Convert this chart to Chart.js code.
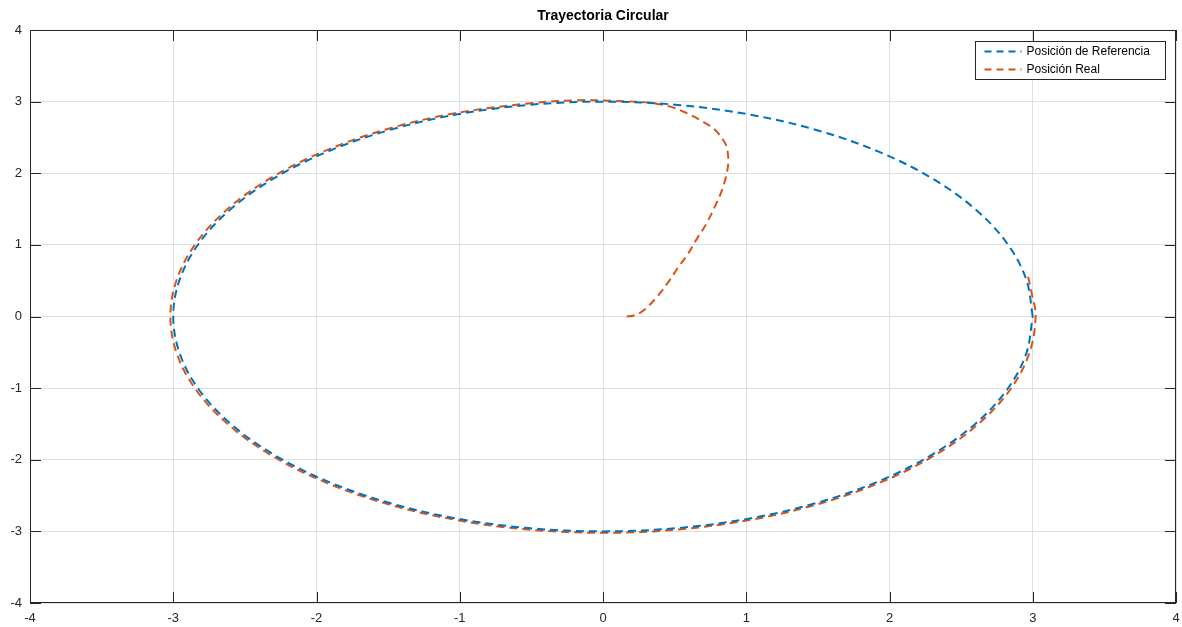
<!DOCTYPE html>
<html lang="es">
<head>
<meta charset="UTF-8" />
<title>Trayectoria Circular</title>
<script src="https://cdn.jsdelivr.net/npm/chart.js"></script>
<style>
  html, body { margin: 0; padding: 0; background: #fff; }
  #wrap { width: 1182px; height: 627px; }
</style>
</head>
<body>
<div id="wrap"><canvas id="traj"></canvas></div>
<script>
  // reference circle (r = 3)
  const refX = [3.000, 2.954, 2.819, 2.598, 2.298, 1.928, 1.500, 1.026, 0.521, 0.000,
    -0.521, -1.026, -1.500, -1.928, -2.298, -2.598, -2.819, -2.954, -3.000,
    -2.954, -2.819, -2.598, -2.298, -1.928, -1.500, -1.026, -0.521, 0.000,
    0.521, 1.026, 1.500, 1.928, 2.298, 2.598, 2.819, 2.954, 3.000];
  const refY = [0.000, 0.521, 1.026, 1.500, 1.928, 2.298, 2.598, 2.819, 2.954, 3.000,
    2.954, 2.819, 2.598, 2.298, 1.928, 1.500, 1.026, 0.521, 0.000,
    -0.521, -1.026, -1.500, -1.928, -2.298, -2.598, -2.819, -2.954, -3.000,
    -2.954, -2.819, -2.598, -2.298, -1.928, -1.500, -1.026, -0.521, 0.000];

  // actual position
  const realX = [0.165, 0.21, 0.28, 0.375, 0.456, 0.526, 0.595, 0.654, 0.72, 0.78, 0.83, 0.863,
    0.875, 0.863, 0.84, 0.78, 0.69, 0.584, 0.47, 0.34, 0.21, 0.07, -0.16,
    -0.524, -1.033, -1.510, -1.941, -2.313, -2.615, -2.838, -2.974, -3.020,
    -2.974, -2.838, -2.615, -2.313, -1.941, -1.510, -1.033, -0.524, 0.000,
    0.524, 1.033, 1.510, 1.941, 2.313, 2.615, 2.838, 2.974, 3.020, 2.990, 2.960];
  const realY = [0.0, 0.01, 0.08, 0.27, 0.48, 0.69, 0.88, 1.08, 1.29, 1.53, 1.76, 1.99,
    2.18, 2.37, 2.46, 2.61, 2.73, 2.84, 2.93, 2.98, 3.0, 3.01, 3.02,
    2.974, 2.838, 2.615, 2.313, 1.941, 1.510, 1.033, 0.524, 0.000,
    -0.524, -1.033, -1.510, -1.941, -2.313, -2.615, -2.838, -2.974, -3.020,
    -2.974, -2.838, -2.615, -2.313, -1.941, -1.510, -1.033, -0.524, 0.000, 0.35, 0.62];

  const axisTicks = [-4, -3, -2, -1, 0, 1, 2, 3, 4];
  const seriesNames = ['Posición de Referencia', 'Posición Real'];
  const chartTitle = 'Trayectoria Circular';

  const toPoints = (xs, ys) => xs.map((x, i) => ({ x: x, y: ys[i] }));

  const axisColor = '#262626';
  const font = 'Liberation Sans, Arial, sans-serif';

  // box, inward ticks, x labels, title and legend in MATLAB style
  const matlabFrame = {
    id: 'matlabFrame',
    afterDraw(chart) {
      const ctx = chart.ctx;
      const a = chart.chartArea;
      const sx = chart.scales.x, sy = chart.scales.y;
      const tl = 11;
      ctx.save();
      ctx.strokeStyle = axisColor;
      ctx.lineWidth = 1;
      ctx.strokeRect(a.left + 0.5, a.top + 0.5, a.right - a.left - 1, a.bottom - a.top - 1);
      ctx.beginPath();
      axisTicks.forEach(v => {
        const px = Math.round(sx.getPixelForValue(v)) + 0.5;
        ctx.moveTo(px, a.bottom); ctx.lineTo(px, a.bottom - tl);
        ctx.moveTo(px, a.top); ctx.lineTo(px, a.top + tl);
        const py = Math.round(sy.getPixelForValue(v)) + 0.5;
        ctx.moveTo(a.left, py); ctx.lineTo(a.left + tl, py);
        ctx.moveTo(a.right, py); ctx.lineTo(a.right - tl, py);
      });
      ctx.stroke();

      // x tick labels
      ctx.fillStyle = axisColor;
      ctx.font = '13px ' + font;
      ctx.textAlign = 'center';
      ctx.textBaseline = 'middle';
      axisTicks.forEach(v => {
        ctx.fillText(String(v), sx.getPixelForValue(v), a.bottom + 15);
      });

      // title
      ctx.fillStyle = '#000';
      ctx.font = 'bold 14px ' + font;
      ctx.fillText(chartTitle, (a.left + a.right) / 2, 16);

      // legend
      const bx = 975.5, by = 41.5, bw = 190, bh = 38;
      ctx.fillStyle = '#fff';
      ctx.fillRect(bx, by, bw, bh);
      ctx.strokeStyle = axisColor;
      ctx.strokeRect(bx, by, bw, bh);
      ctx.font = '12px ' + font;
      ctx.textAlign = 'left';
      chart.data.datasets.forEach((ds, i) => {
        const yy = by + 10 + i * 18;
        ctx.strokeStyle = ds.borderColor;
        ctx.lineWidth = 2;
        ctx.setLineDash([7, 5]);
        ctx.beginPath();
        ctx.moveTo(bx + 9, yy); ctx.lineTo(bx + 46, yy);
        ctx.stroke();
        ctx.setLineDash([]);
        ctx.fillStyle = '#000';
        ctx.fillText(ds.label, bx + 51, yy);
      });
      ctx.restore();
    }
  };

  new Chart(document.getElementById('traj'), {
    type: 'scatter',
    data: {
      datasets: [
        {
          label: seriesNames[0],
          data: toPoints(refX, refY),
          showLine: true,
          borderColor: '#0072BD',
          borderWidth: 2,
          borderDash: [8, 5],
          pointRadius: 0,
          tension: 0.35,
          fill: false
        },
        {
          label: seriesNames[1],
          data: toPoints(realX, realY),
          showLine: true,
          borderColor: '#D95319',
          borderWidth: 2,
          borderDash: [8, 5],
          pointRadius: 0,
          tension: 0.35,
          fill: false
        }
      ]
    },
    options: {
      responsive: true,
      maintainAspectRatio: false,
      animation: false,
      layout: { padding: { top: 30, right: 6, left: 0, bottom: 0 } },
      plugins: {
        legend: { display: false },
        title: { display: false },
        tooltip: { enabled: false }
      },
      scales: {
        x: {
          type: 'linear',
          min: -4, max: 4,
          afterBuildTicks: s => { s.ticks = axisTicks.map(v => ({ value: v })); },
          afterFit: s => { s.height = 24; },
          grid: { color: '#dfdfdf', drawTicks: false },
          border: { display: false },
          ticks: { display: false }
        },
        y: {
          type: 'linear',
          min: -4, max: 4,
          afterBuildTicks: s => { s.ticks = axisTicks.map(v => ({ value: v })); },
          afterFit: s => { s.width = 30; },
          grid: { color: '#dfdfdf', drawTicks: false },
          border: { display: false },
          ticks: { color: axisColor, font: { family: font, size: 13 }, padding: 8 }
        }
      }
    },
    plugins: [matlabFrame]
  });
</script>
</body>
</html>
